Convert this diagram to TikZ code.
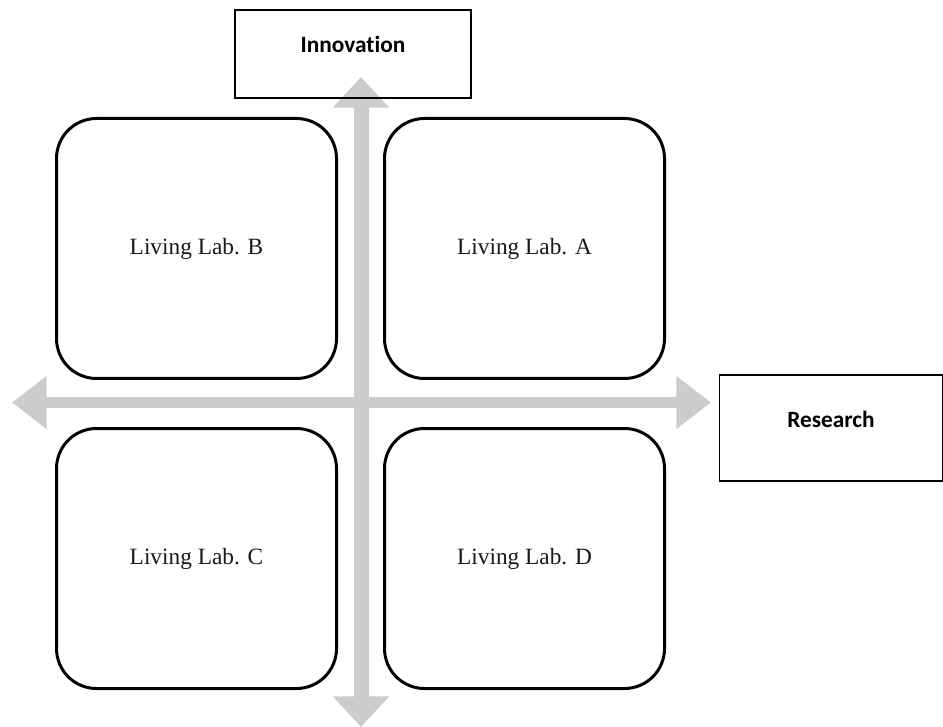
\documentclass[tikz,border=0pt]{standalone}
\usepackage{fontspec}
\setmainfont{Liberation Serif}
\newfontfamily\labelfont[Ligatures=NoCommon]{Carlito}
\usepackage{tikz}
\usetikzlibrary{arrows.meta}

\begin{document}
\begin{tikzpicture}[x=0.75pt,y=-0.75pt,
        axis/.style={draw=gray!40},
        lab/.style={draw,line width=2.25pt,rounded corners=30pt,minimum width=210pt,minimum height=195pt,font=\fontsize{17.5}{19}\selectfont,text=black!90},
        axisbox/.style={draw,line width=0.9pt,font=\labelfont\bfseries\fontsize{17.5}{20}\selectfont,text height=9pt,text depth=10.5pt}]
        \useasboundingbox (0,0) rectangle (943,727);
        % the two axes
        \coordinate (top) at (361,77);
        \coordinate (bottom) at (361,727);
        \coordinate (left) at (12,402.5);
        \coordinate (right) at (711,402.5);
        \draw[axis,line width=11.25pt,{Triangle[width=41pt,length=23pt]}-{Triangle[width=41pt,length=23pt]}] (bottom)--(top);
        \draw[axis,line width=8.25pt,{Triangle[width=38pt,length=26pt]}-{Triangle[width=38pt,length=26pt]}] (left)--(right);
        % axis names
        \node[axisbox,minimum width=177pt,minimum height=66pt] (innov) at (353,54) {Innovation};
        \node[axisbox,minimum width=167pt,minimum height=79.5pt] (research) at (831,428) {Research};
        % the four labs
        \node[lab] (labB) at (196.5,248.5) {Living Lab. B};
        \node[lab] (labA) at (524.5,248.5) {Living Lab. A};
        \node[lab] (labC) at (196.5,558.5) {Living Lab. C};
        \node[lab] (labD) at (524.5,558.5) {Living Lab. D};
    \end{tikzpicture}
\end{document}
